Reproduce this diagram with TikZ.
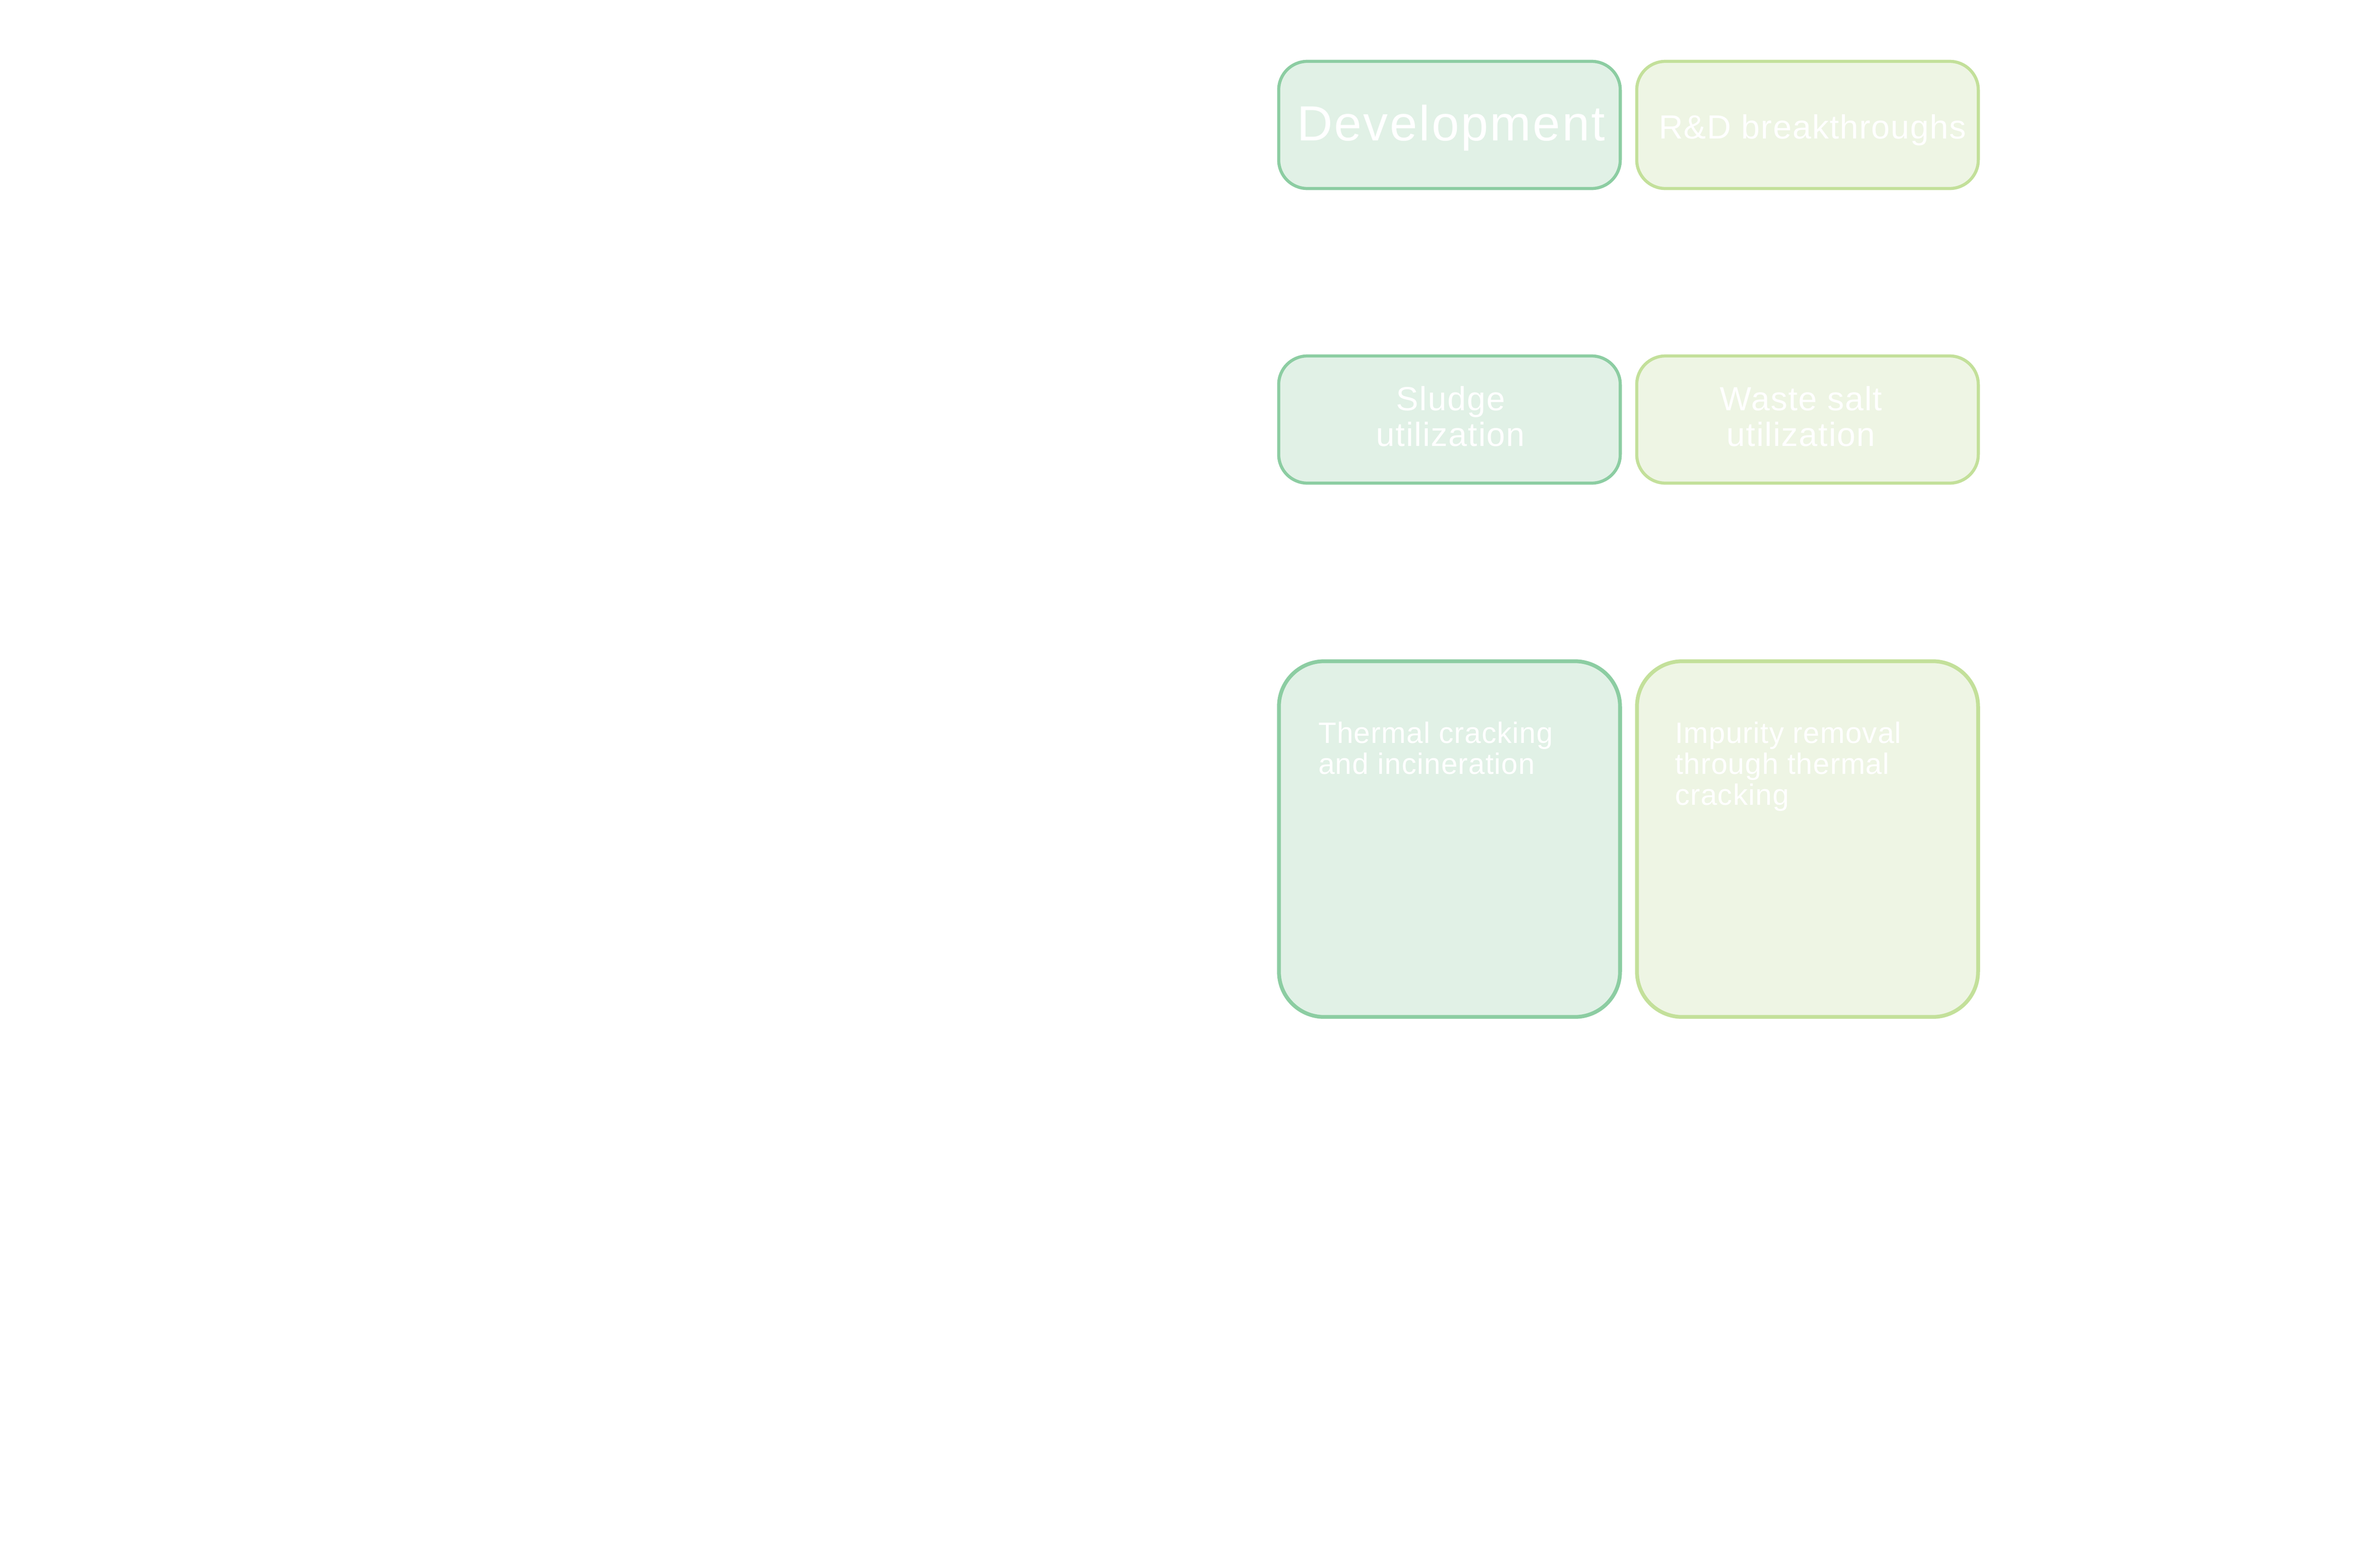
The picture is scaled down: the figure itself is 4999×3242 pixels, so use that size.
\documentclass[tikz,border=0pt]{standalone}
\usepackage{fontspec}
\setmainfont{Liberation Sans}
\newfontfamily\fbig[LetterSpace=3.5]{Liberation Sans}
\newfontfamily\fmid[LetterSpace=2.7]{Liberation Sans}
\newfontfamily\fsml[LetterSpace=2.1]{Liberation Sans}
\definecolor{gfill}{HTML}{E1F1E6}
\definecolor{gline}{HTML}{8CCDA2}
\definecolor{lfill}{HTML}{EEF5E4}
\definecolor{lline}{HTML}{C3E09A}
\tikzset{
  x=0.01cm,y=-0.01cm,
  smallbox/.style={draw,rectangle,line width=0.065cm,rounded corners=0.6cm,minimum width=7.17cm,minimum height=2.67cm,inner sep=0,outer sep=0},
  bigbox/.style={draw,rectangle,line width=0.08cm,rounded corners=0.95cm,minimum width=7.16cm,minimum height=7.47cm,inner sep=0,outer sep=0},
  gbox/.style={fill=gfill,draw=gline},
  lbox/.style={fill=lfill,draw=lline},
  label/.style={text=white,inner sep=0,outer sep=0},
  titlelabel/.style={label,anchor=base west,font=\fontsize{29.5pt}{33pt}\fbig},
  midlabel/.style={label,anchor=base,font=\fontsize{20pt}{21.35pt}\fmid,align=center},
  sidelabel/.style={label,anchor=north west,font=\fontsize{17.6pt}{18.5pt}\fsml,align=left},
}
\begin{document}
\begin{tikzpicture}
\useasboundingbox (0,0) rectangle (4999,3242);
\node[smallbox,gbox] (dev) at (3044.5,262.5) {};
\node[smallbox,lbox] (rd) at (3796.5,262.5) {};
\node[smallbox,gbox] (sludge) at (3044.5,881.5) {};
\node[smallbox,lbox] (salt) at (3796.5,881.5) {};
\node[bigbox,gbox] (thermal) at (3044.5,1763) {};
\node[bigbox,lbox] (impurity) at (3796.5,1763) {};
\node[titlelabel] (devt) at (2724,295) {Development};
\node[label,anchor=base west,font=\fontsize{20pt}{21.35pt}\fmid] (rdt) at (3484,291.5) {R\&D breakthroughs};
\node[midlabel] (st1) at (3047,862) {Sludge};
\node[midlabel] (st2) at (3047,937) {utilization};
\node[midlabel] (wt1) at (3783,862) {Waste salt};
\node[midlabel] (wt2) at (3783,937) {utilization};
\node[sidelabel] (tt) at (2769,1517) {Thermal cracking\\and incineration};
\node[sidelabel] (it) at (3518,1517) {Impurity removal\\through thermal\\cracking};
\end{tikzpicture}
\end{document}
